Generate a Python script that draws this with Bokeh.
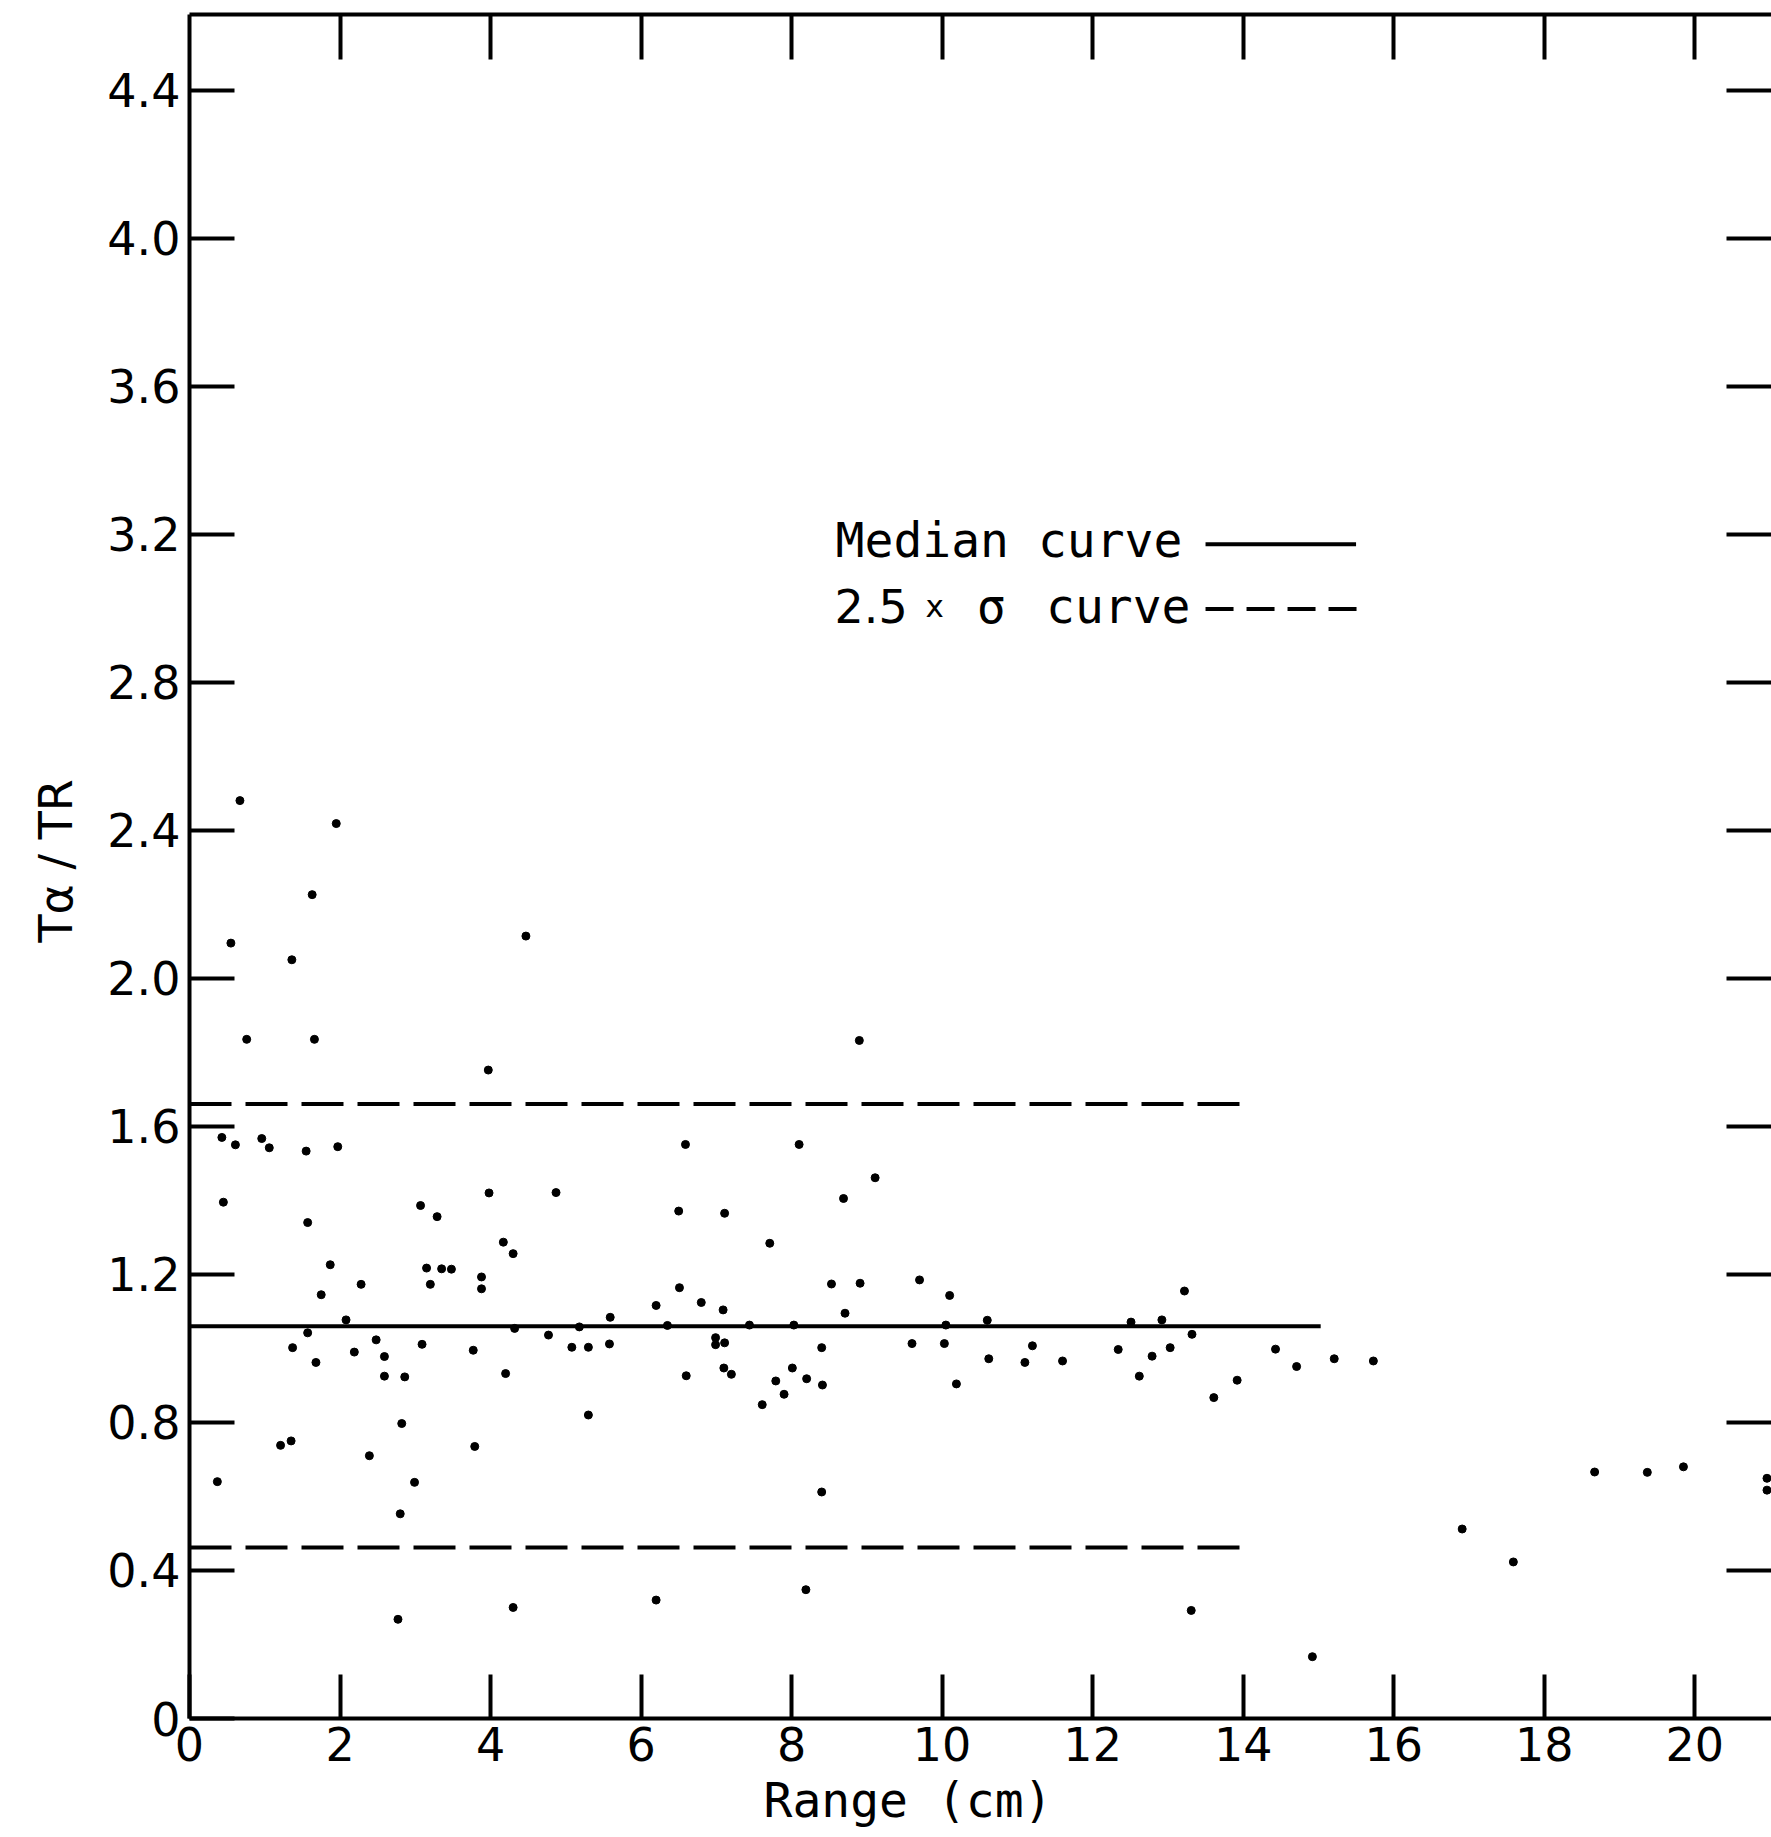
from bokeh.plotting import figure
from bokeh.models import Range1d, LinearAxis, FixedTicker, Label, Title
from bokeh.embed import file_html
from bokeh.resources import INLINE

# ---------------- data ----------------
RANGE_CM = [0.37, 0.43, 0.45, 0.55, 0.61, 0.67, 0.76, 0.96, 1.06, 1.21,
            1.35, 1.36, 1.37, 1.55, 1.57, 1.57, 1.63, 1.66, 1.68, 1.75,
            1.87, 1.95, 1.97, 2.08, 2.19, 2.28, 2.39, 2.48, 2.59, 2.59,
            2.77, 2.80, 2.82, 2.86, 2.99, 3.07, 3.09, 3.15, 3.20, 3.29,
            3.35, 3.48, 3.77, 3.79, 3.88, 3.88, 3.97, 3.98, 4.17, 4.20,
            4.30, 4.30, 4.32, 4.47, 4.77, 4.87, 5.08, 5.18, 5.30, 5.30,
            5.58, 5.59, 6.20, 6.20, 6.35, 6.50, 6.51, 6.59, 6.60, 6.80,
            6.99, 6.99, 7.09, 7.11, 7.11, 7.10, 7.20, 7.44, 7.61, 7.71,
            7.79, 7.90, 8.01, 8.03, 8.10, 8.19, 8.20, 8.40, 8.41, 8.40,
            8.53, 8.69, 8.71, 8.90, 8.91, 9.11, 9.60, 9.70, 10.03, 10.05,
            10.10, 10.19, 10.60, 10.62, 11.10, 11.20, 11.60, 12.34, 12.51, 12.62,
            12.79, 12.92, 13.03, 13.22, 13.31, 13.32, 13.61, 13.92, 14.43, 14.71,
            14.92, 15.21, 15.73, 16.91, 17.59, 18.67, 19.37, 19.85, 20.96, 20.96]

T_RATIO = [0.640, 1.570, 1.395, 2.095, 1.550, 2.480, 1.835, 1.567, 1.542, 0.738,
           0.750, 2.050, 1.002, 1.533, 1.340, 1.042, 2.226, 1.835, 0.962, 1.145,
           1.226, 2.418, 1.545, 1.077, 0.990, 1.173, 0.710, 1.023, 0.978, 0.925,
           0.268, 0.553, 0.797, 0.923, 0.638, 1.386, 1.011, 1.217, 1.173, 1.356,
           1.215, 1.214, 0.995, 0.735, 1.193, 1.161, 1.752, 1.420, 1.287, 0.932,
           1.256, 0.300, 1.054, 2.114, 1.036, 1.421, 1.003, 1.058, 1.003, 0.820,
           1.012, 1.084, 1.116, 0.320, 1.062, 1.371, 1.164, 1.551, 0.926, 1.124,
           1.029, 1.010, 1.104, 1.365, 1.015, 0.947, 0.930, 1.063, 0.848, 1.284,
           0.912, 0.876, 0.947, 1.063, 1.551, 0.348, 0.918, 1.002, 0.901, 0.612,
           1.174, 1.405, 1.095, 1.832, 1.176, 1.461, 1.013, 1.185, 1.013, 1.063,
           1.143, 0.904, 1.076, 0.972, 0.962, 1.007, 0.966, 0.997, 1.071, 0.925,
           0.979, 1.077, 1.002, 1.155, 0.292, 1.038, 0.867, 0.914, 0.998, 0.951,
           0.167, 0.972, 0.966, 0.512, 0.423, 0.666, 0.665, 0.680, 0.649, 0.617]

MEDIAN_X = [0.0, 15.03]
MEDIAN_Y = [1.06, 1.06]
UPPER_X = [0.0, 14.05]
UPPER_Y = [1.66, 1.66]
LOWER_X = [0.0, 14.0]
LOWER_Y = [0.462, 0.462]

X_TICKS = [0, 2, 4, 6, 8, 10, 12, 14, 16, 18, 20]
X_TICK_LABELS = ["0", "2", "4", "6", "8", "10", "12", "14", "16", "18", "20"]
Y_TICKS = [0, 0.4, 0.8, 1.2, 1.6, 2.0, 2.4, 2.8, 3.2, 3.6, 4.0, 4.4]
Y_TICK_LABELS = ["0", "0.4", "0.8", "1.2", "1.6", "2.0", "2.4", "2.8", "3.2", "3.6", "4.0", "4.4"]

# ---------------- figure ----------------
TICK_FONT = "DejaVu Sans"
MONO = "DejaVu Sans Mono"

p = figure(width=1771, height=1837,
           x_range=Range1d(0, 21.02), y_range=Range1d(0, 4.604),
           output_backend="svg", toolbar_location=None,
           x_axis_location=None, y_axis_location=None,
           min_border_left=189, min_border_right=0,
           min_border_top=14, min_border_bottom=119)
p.outline_line_color = None
p.grid.grid_line_color = None
p.background_fill_color = "white"
p.border_fill_color = "white"


def make_axis(ticks, labels, show_labels, line=True, tick_len=45, standoff=12):
    ax = LinearAxis(ticker=FixedTicker(ticks=ticks, minor_ticks=[]))
    ax.major_tick_in = tick_len
    ax.major_tick_out = 0
    ax.minor_tick_line_color = None
    ax.major_tick_line_width = 4
    ax.major_tick_line_color = "black"
    ax.axis_line_width = 4
    ax.axis_line_color = "black" if line else None
    if show_labels:
        ax.major_label_overrides = {t: l for t, l in zip(ticks, labels)}
        ax.major_label_text_font = TICK_FONT
        ax.major_label_text_font_size = "46px"
        ax.major_label_text_color = "black"
        ax.major_label_standoff = standoff
    else:
        ax.major_label_text_font_size = "0px"
        ax.major_label_standoff = 0
        ax.major_label_text_alpha = 0
    return ax


p.add_layout(make_axis(X_TICKS, X_TICK_LABELS, True, tick_len=44, standoff=8), "below")
p.add_layout(make_axis(Y_TICKS, Y_TICK_LABELS, True, tick_len=45, standoff=9), "left")
p.add_layout(make_axis(X_TICKS[1:], None, False, tick_len=45), "above")
p.add_layout(make_axis(Y_TICKS[1:], None, False, line=False, tick_len=45), "right")

# axis titles (as side panels so they are not clipped)
p.add_layout(Title(text="Range (cm)", align="left", offset=574, standoff=16,
                   vertical_align="top",
                   text_font=MONO, text_font_size="48px", text_font_style="normal",
                   text_color="black"), "below")
p.add_layout(Title(text="Tα / TR", align="left", offset=776, standoff=43,
                   text_font=TICK_FONT, text_font_size="46px", text_font_style="normal",
                   text_color="black"), "left")

# reference curves
p.line(MEDIAN_X, MEDIAN_Y, line_color="black", line_width=4)
p.line(UPPER_X, UPPER_Y, line_color="black", line_width=4, line_dash="42 14")
p.line(LOWER_X, LOWER_Y, line_color="black", line_width=4, line_dash="42 14")

# data points
p.scatter(RANGE_CM, T_RATIO, size=8, color="black")


# legend (text + keys)
def txt(x, y, s, size, font=MONO):
    p.add_layout(Label(x=x, y=y, text=s, text_font=font,
                       text_font_size=size, text_color="black",
                       text_align="left", text_baseline="middle"))


txt(8.585, 3.183, "Median curve", "48px")
txt(8.57, 3.005, "2.5", "46px", font=TICK_FONT)
txt(9.78, 3.006, "x", "31px", font=TICK_FONT)
txt(10.46, 3.005, "σ", "48px")
txt(11.38, 3.005, "curve", "48px")
p.line([13.50, 15.50], [3.173, 3.173], line_color="black", line_width=4)
p.line([13.50, 15.52], [2.998, 2.998], line_color="black", line_width=4, line_dash="28 13")

open("out.html", "w").write(file_html(p, INLINE))
